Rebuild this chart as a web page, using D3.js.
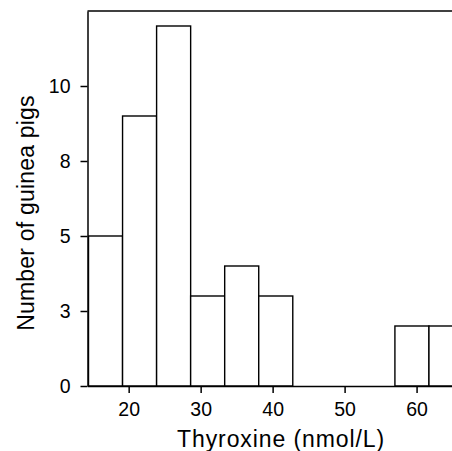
<!DOCTYPE html>
<html>
<head>
<meta charset="utf-8">
<script src="https://cdn.jsdelivr.net/npm/d3@7"></script>
<style>
  body { margin: 0; background: #fff; }
  text { font-family: "Liberation Sans", Arial, sans-serif; fill: #000; }
</style>
</head>
<body>
<div id="chart"></div>
<script>
// Histogram data: bin edges (nmol/L) and counts per bin
var binEdges = [14.42, 19.15, 23.88, 28.61, 33.34, 38.07, 42.80, 47.53, 52.26, 56.99, 61.72, 66.45];
var binCounts = [5, 9, 12, 3, 4, 3, 0, 0, 0, 2, 2];

// Axis ticks
var xTickValues = [20, 30, 40, 50, 60];
var yTickValues = [0, 2.5, 5, 7.5, 10];
var yTickLabels = ["0", "3", "5", "8", "10"];

var svgWidth = 452;
var svgHeight = 451;

var margin = { top: 11, right: -20, bottom: 65, left: 87.5 };
var width = svgWidth - margin.left - margin.right;
var height = svgHeight - margin.top - margin.bottom;

var bins = binCounts.map(function(c, i) {
  return { x0: binEdges[i], x1: binEdges[i + 1], count: c };
});

var svg = d3.select("#chart")
  .append("svg")
  .attr("width", svgWidth)
  .attr("height", svgHeight);

var chartGroup = svg.append("g")
  .attr("transform", `translate(${margin.left}, ${margin.top})`);

// scales
var xScale = d3.scaleLinear()
  .domain([14.28, 67.7])
  .range([0, width]);

var yScale = d3.scaleLinear()
  .domain([0, 12.5])
  .range([height, 0]);

// clip so the first bar is cut at the left axis
svg.append("clipPath")
  .attr("id", "plotClip")
  .append("rect")
  .attr("x", 0)
  .attr("y", -2)
  .attr("width", width)
  .attr("height", height + 4);

chartGroup.append("g")
  .attr("clip-path", "url(#plotClip)")
  .selectAll("rect")
  .data(bins.filter(d => d.count > 0))
  .enter()
  .append("rect")
  .attr("x", d => xScale(d.x0))
  .attr("y", d => yScale(d.count))
  .attr("width", d => xScale(d.x1) - xScale(d.x0))
  .attr("height", d => yScale(0) - yScale(d.count))
  .attr("fill", "#fff")
  .attr("stroke", "#000")
  .attr("stroke-width", 1.4);

// axes
var bottomAxis = d3.axisBottom(xScale)
  .tickValues(xTickValues)
  .tickSize(7)
  .tickPadding(9)
  .tickSizeOuter(0);

var leftAxis = d3.axisLeft(yScale)
  .tickValues(yTickValues)
  .tickFormat((d, i) => yTickLabels[i])
  .tickSize(7)
  .tickPadding(10)
  .tickSizeOuter(0);

var xAxis = chartGroup.append("g")
  .attr("transform", `translate(0, ${height})`)
  .call(bottomAxis);

var yAxis = chartGroup.append("g")
  .call(leftAxis);

[xAxis, yAxis].forEach(function(ax) {
  ax.selectAll("path, line").attr("stroke", "#000").attr("stroke-width", 1.5);
  ax.selectAll("text").attr("font-size", 19.5).attr("fill", "#000")
    .style("font-family", "'Liberation Sans', Arial, sans-serif");
});

// top frame line
chartGroup.append("line")
  .attr("x1", 0)
  .attr("x2", width)
  .attr("y1", 0)
  .attr("y2", 0)
  .attr("stroke", "#000")
  .attr("stroke-width", 1.5);

// axis titles
chartGroup.append("text")
  .attr("x", 281 - margin.left)
  .attr("y", 447 - margin.top)
  .attr("text-anchor", "middle")
  .attr("font-size", 23)
  .attr("letter-spacing", 0.9)
  .text("Thyroxine (nmol/L)");

chartGroup.append("text")
  .attr("transform", "rotate(-90)")
  .attr("x", -(213 - margin.top))
  .attr("y", 34 - margin.left)
  .attr("text-anchor", "middle")
  .attr("font-size", 23)
  .attr("letter-spacing", 0.2)
  .text("Number of guinea pigs");
</script>
</body>
</html>
